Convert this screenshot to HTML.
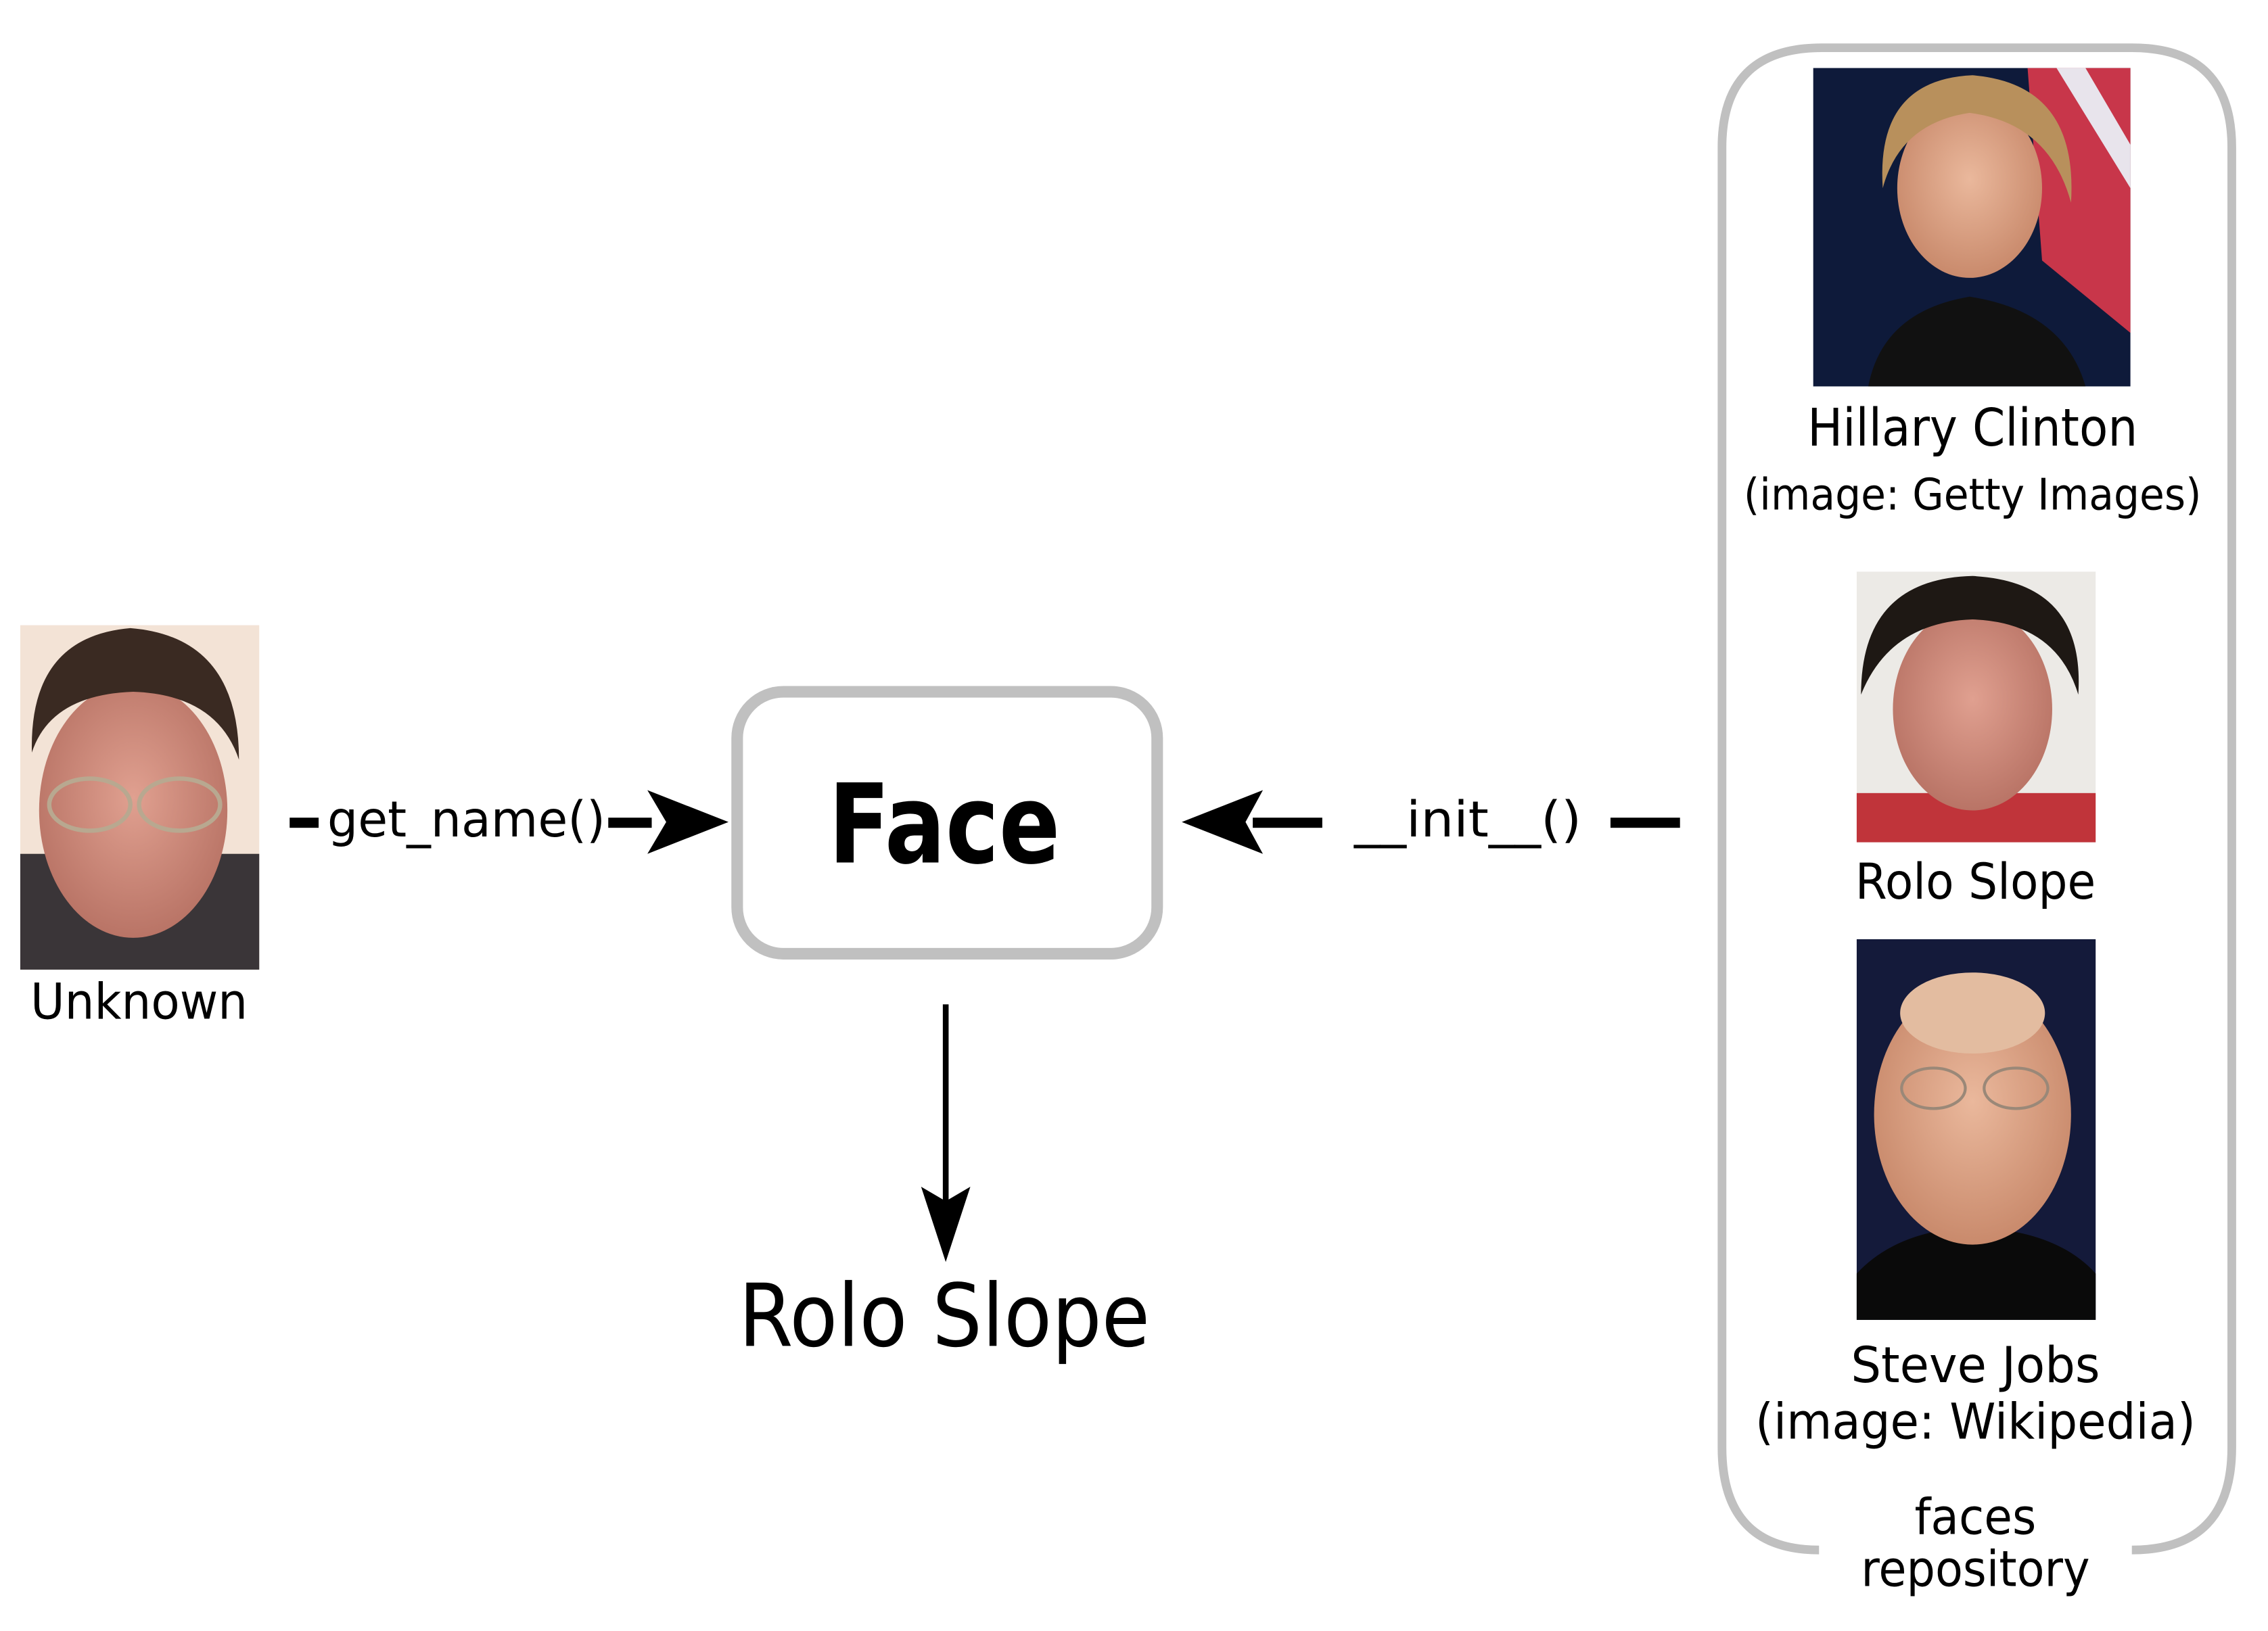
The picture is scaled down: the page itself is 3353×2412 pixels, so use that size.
<!DOCTYPE html>
<html><head><meta charset="utf-8"><style>html,body{margin:0;padding:0;background:#fff}svg{display:block}</style></head>
<body>
<svg width="3353" height="2412" viewBox="0 0 1566 1127" preserveAspectRatio="none" xmlns="http://www.w3.org/2000/svg" font-family="'DejaVu Sans','Liberation Sans',sans-serif">
<defs>
<radialGradient id="skin" cx="50%" cy="45%" r="55%"><stop offset="0" stop-color="#e0a090"/><stop offset="1" stop-color="#b97466"/></radialGradient>
<radialGradient id="skin2" cx="50%" cy="45%" r="55%"><stop offset="0" stop-color="#eab89c"/><stop offset="1" stop-color="#c98a6c"/></radialGradient>
</defs>
<rect width="1566" height="1127" fill="#fff"/>
<rect x="14" y="432" width="165" height="238" fill="#f3e3d6"/>
<rect x="14" y="590" width="165" height="80" fill="#3a3538"/>
<ellipse cx="92" cy="560" rx="65" ry="88" fill="url(#skin)"/>
<path d="M22 520 Q20 440 90 434 Q165 440 165 525 Q150 480 92 478 Q35 480 22 520Z" fill="#3a2a22"/>
<g fill="none" stroke="#b8a890" stroke-width="3"><ellipse cx="62" cy="556" rx="28" ry="18"/><ellipse cx="124" cy="556" rx="28" ry="18"/></g>
<text x="96" y="704" font-size="34" text-anchor="middle" textLength="150" lengthAdjust="spacingAndGlyphs">Unknown</text>
<rect x="200" y="565" width="20" height="7" fill="#000"/>
<text x="226" y="578" font-size="34" textLength="192" lengthAdjust="spacingAndGlyphs">get_name()</text>
<rect x="420" y="565" width="30" height="7" fill="#000"/>
<path d="M503 568 L447 546 L460 568 L447 590Z" fill="#000"/>
<rect x="509" y="478" width="290" height="181" rx="32" fill="#fff" stroke="#c0c0c0" stroke-width="8"/>
<text x="652" y="596" font-size="76" font-weight="bold" text-anchor="middle" textLength="160" lengthAdjust="spacingAndGlyphs">Face</text>
<path d="M816 568 L872 546 L860 568 L872 590Z" fill="#000"/>
<rect x="865" y="565" width="48" height="7" fill="#000"/>
<text x="935" y="578" font-size="34" textLength="157" lengthAdjust="spacingAndGlyphs">__init__()</text>
<rect x="1112" y="565" width="48" height="7" fill="#000"/>
<rect x="651" y="694" width="4" height="140" fill="#000"/>
<path d="M653 872 L636 820 L653 830 L670 820Z" fill="#000"/>
<text x="652" y="930" font-size="60" text-anchor="middle" textLength="284" lengthAdjust="spacingAndGlyphs">Rolo Slope</text>
<path d="M1256 1071 Q1189 1071 1189 1000 L1189 102 Q1189 33 1258 33 L1472 33 Q1541 33 1541 102 L1541 1000 Q1541 1071 1472 1071" fill="none" stroke="#c0c0c0" stroke-width="6"/>
<rect x="1252" y="47" width="219" height="220" fill="#0e1a3a"/>
<path d="M1400 47 L1471 47 L1471 230 L1410 180Z" fill="#c8364a"/>
<path d="M1420 47 L1440 47 L1471 100 L1471 130Z" fill="#e8e4ec"/>
<path d="M1290 267 Q1300 215 1360 205 Q1425 215 1440 267Z" fill="#111"/>
<ellipse cx="1360" cy="130" rx="50" ry="62" fill="url(#skin2)"/>
<path d="M1300 130 Q1295 55 1362 52 Q1435 58 1430 140 Q1415 85 1360 78 Q1312 85 1300 130Z" fill="#b8905c"/>
<text x="1362" y="308" font-size="36" text-anchor="middle" textLength="228" lengthAdjust="spacingAndGlyphs">Hillary Clinton</text>
<text x="1362" y="352" font-size="30" text-anchor="middle" textLength="316" lengthAdjust="spacingAndGlyphs">(image: Getty Images)</text>
<rect x="1282" y="395" width="165" height="187" fill="#eceae6"/>
<rect x="1282" y="548" width="165" height="34" fill="#c0343a"/>
<ellipse cx="1362" cy="490" rx="55" ry="70" fill="url(#skin)"/>
<path d="M1285 480 Q1285 400 1362 398 Q1440 402 1435 480 Q1420 430 1362 428 Q1305 430 1285 480Z" fill="#1e1814"/>
<text x="1364" y="621" font-size="34" text-anchor="middle" textLength="166" lengthAdjust="spacingAndGlyphs">Rolo Slope</text>
<rect x="1282" y="649" width="165" height="263" fill="#141a3a"/>
<path d="M1282 912 L1282 880 Q1310 850 1362 848 Q1420 850 1447 880 L1447 912Z" fill="#0a0a0a"/>
<ellipse cx="1362" cy="770" rx="68" ry="90" fill="url(#skin2)"/>
<ellipse cx="1362" cy="700" rx="50" ry="28" fill="#e3bca0"/>
<g fill="none" stroke="#9a8878" stroke-width="2"><ellipse cx="1335" cy="752" rx="22" ry="14"/><ellipse cx="1392" cy="752" rx="22" ry="14"/></g>
<text x="1364" y="955" font-size="34" text-anchor="middle" textLength="172" lengthAdjust="spacingAndGlyphs">Steve Jobs</text>
<text x="1364" y="994" font-size="34" text-anchor="middle" textLength="304" lengthAdjust="spacingAndGlyphs">(image: Wikipedia)</text>
<text x="1364" y="1060" font-size="34" text-anchor="middle" textLength="84" lengthAdjust="spacingAndGlyphs">faces</text>
<text x="1364" y="1096" font-size="34" text-anchor="middle" textLength="158" lengthAdjust="spacingAndGlyphs">repository</text>
</svg>
</body></html>
